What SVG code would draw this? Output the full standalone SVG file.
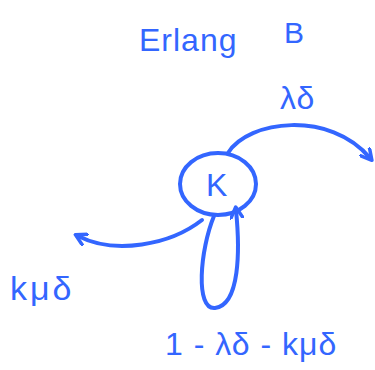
<svg xmlns="http://www.w3.org/2000/svg" width="375" height="370" viewBox="0 0 375 370">
<style>
.t{fill:#3366ff;font-family:"Liberation Sans",Arial,sans-serif;}
.s{fill:none;stroke:#3366ff;stroke-width:4;stroke-linecap:round;stroke-linejoin:round;}
</style>
<defs>
<marker id="ah2" markerWidth="14" markerHeight="14" refX="9" refY="7" orient="auto" markerUnits="userSpaceOnUse" viewBox="0 0 14 14">
<path d="M1,1 L12,7 L1,13" fill="none" stroke="#3366ff" stroke-width="3.5" stroke-linecap="round" stroke-linejoin="round"/>
</marker>
</defs>
<rect width="375" height="370" fill="#ffffff"/>
<g id="title">
<text class="t" x="139" y="51" font-size="32" letter-spacing="1">Erlang</text>
<text class="t" x="284" y="43" font-size="30">B</text>
</g>
<g id="nodeK">
<ellipse class="s" cx="218" cy="184" rx="38" ry="31"/>
<text class="t" x="206" y="196" font-size="32">K</text>
</g>
<g id="connectors">
<path class="s" d="M228,153 C248,120 330,110 370,158" marker-end="url(#ah2)"/>
<path class="s" d="M202,220 C170,245 115,255 78,236" marker-end="url(#ah2)"/>
<path class="s" d="M214,216 C200,250 195,310 215,308 C240,305 240,250 236,210" marker-end="url(#ah2)"/>
</g>
<g id="labels">
<text class="t" x="280" y="109" font-size="32" letter-spacing="1">λδ</text>
<text class="t" x="10" y="300" font-size="34" letter-spacing="3">kμδ</text>
<text class="t" x="165" y="355" font-size="32" letter-spacing="1">1 - λδ - kμδ</text>
</g>
</svg>
